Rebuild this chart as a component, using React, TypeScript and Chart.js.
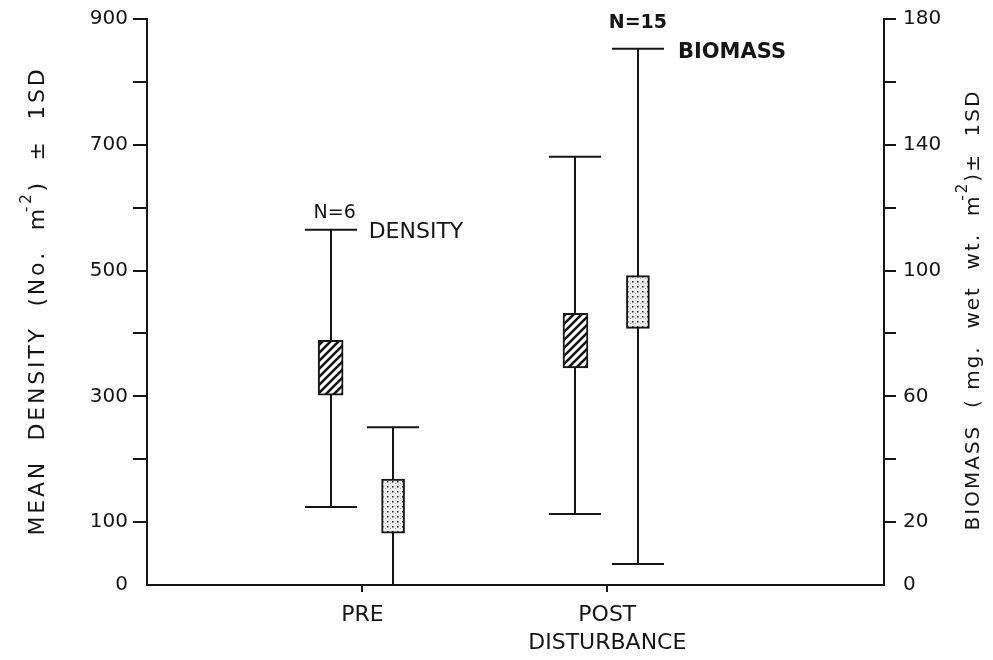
import React, { useEffect, useRef } from 'react';
import { Chart, registerables } from 'chart.js';

Chart.register(...registerables);

// ---------- data ----------
const CATEGORIES = ['PRE', 'POST'];
const X_TICK_LABELS = [['PRE'], ['POST', 'DISTURBANCE']];
const SAMPLE_SIZES = ['N=6', 'N=15'];

// Density (No. m^-2), left axis
const DENSITY_BOX_LOW = [302, 345];
const DENSITY_BOX_HIGH = [389, 432];
const DENSITY_SD_LOW = [124, 113];
const DENSITY_SD_HIGH = [565, 681];

// Biomass (mg wet wt. m^-2), right axis
const BIOMASS_BOX_LOW = [16.5, 81.6];
const BIOMASS_BOX_HIGH = [33.7, 98.4];
const BIOMASS_SD_LOW = [0, 6.7];
const BIOMASS_SD_HIGH = [50.2, 170.5];

const LEFT_TICK_LABELS = [0, 100, 300, 500, 700, 900];
const RIGHT_TICK_LABELS = [0, 20, 60, 100, 140, 180];

// ---------- style ----------
const INK = '#151515';
const FONT = '"DejaVu Sans", "Liberation Sans", sans-serif';
const DENSITY_OFFSET = -0.13;
const BIOMASS_OFFSET = 0.125;
const CAP = 52;

function makeHatch(ctx: CanvasRenderingContext2D) {
  const c = document.createElement('canvas');
  c.width = 8;
  c.height = 8;
  const g = c.getContext('2d')!;
  g.fillStyle = '#ffffff';
  g.fillRect(0, 0, 8, 8);
  g.strokeStyle = INK;
  g.lineWidth = 2.6;
  g.beginPath();
  g.moveTo(-2, 10);
  g.lineTo(10, -2);
  g.moveTo(-2, 2);
  g.lineTo(2, -2);
  g.moveTo(6, 10);
  g.lineTo(10, 6);
  g.stroke();
  return ctx.createPattern(c, 'repeat')!;
}

function makeDots(ctx: CanvasRenderingContext2D) {
  const c = document.createElement('canvas');
  c.width = 5;
  c.height = 5;
  const g = c.getContext('2d')!;
  g.fillStyle = '#efefef';
  g.fillRect(0, 0, 5, 5);
  g.fillStyle = '#222';
  g.fillRect(2, 1, 1.5, 1.5);
  g.fillStyle = '#aaa';
  g.fillRect(0, 3, 1, 1);
  return ctx.createPattern(c, 'repeat')!;
}

type Part = { t: string; sup?: boolean };

function partWidth(ctx: CanvasRenderingContext2D, p: Part, spacing: number, font: string, supFont: string) {
  ctx.font = p.sup ? supFont : font;
  let w = 0;
  for (const ch of p.t) w += ctx.measureText(ch).width + spacing;
  return w;
}

function drawRotated(
  ctx: CanvasRenderingContext2D,
  cx: number,
  cy: number,
  parts: Part[],
  font: string,
  supFont: string,
  spacing: number,
) {
  ctx.save();
  ctx.translate(cx, cy);
  ctx.rotate(-Math.PI / 2);
  ctx.fillStyle = INK;
  ctx.textBaseline = 'middle';
  ctx.textAlign = 'left';
  const supBack = 6;
  let total = 0;
  parts.forEach((p) => {
    total += partWidth(ctx, p, spacing, font, supFont) - (p.sup ? supBack : 0);
  });
  let x = -total / 2;
  parts.forEach((p) => {
    ctx.font = p.sup ? supFont : font;
    if (p.sup) x -= supBack;
    const yy = p.sup ? -11 : 0;
    for (const ch of p.t) {
      ctx.fillText(ch, x, yy);
      x += ctx.measureText(ch).width + spacing;
    }
  });
  ctx.restore();
}

const SERIES = [
  { axis: 'y', offset: DENSITY_OFFSET, lo: DENSITY_SD_LOW, hi: DENSITY_SD_HIGH },
  { axis: 'y2', offset: BIOMASS_OFFSET, lo: BIOMASS_SD_LOW, hi: BIOMASS_SD_HIGH },
];

const whiskerPlugin = {
  id: 'whiskers',
  beforeDatasetsDraw(chart: any) {
    const { ctx } = chart;
    const xs = chart.scales.x;
    ctx.save();
    ctx.strokeStyle = INK;
    ctx.lineWidth = 2;
    SERIES.forEach((s) => {
      const ys = chart.scales[s.axis];
      s.lo.forEach((lo: number, i: number) => {
        const px = Math.round(xs.getPixelForValue(i + s.offset));
        const yLo = ys.getPixelForValue(lo);
        const yHi = ys.getPixelForValue(s.hi[i]);
        ctx.beginPath();
        ctx.moveTo(px, yLo);
        ctx.lineTo(px, yHi);
        ctx.moveTo(px - CAP / 2, yLo);
        ctx.lineTo(px + CAP / 2, yLo);
        ctx.moveTo(px - CAP / 2, yHi);
        ctx.lineTo(px + CAP / 2, yHi);
        ctx.stroke();
      });
    });
    ctx.restore();
  },
};

const textPlugin = {
  id: 'texts',
  afterDraw(chart: any) {
    const { ctx, chartArea } = chart;
    const xs = chart.scales.x;
    const y = chart.scales.y;
    const y2 = chart.scales.y2;
    const midY = (chartArea.top + chartArea.bottom) / 2;

    drawRotated(
      ctx,
      38,
      midY - 1,
      [{ t: 'MEAN  DENSITY  (No.  m' }, { t: '-2', sup: true }, { t: ')  ±  1SD' }],
      `22px ${FONT}`,
      `15px ${FONT}`,
      2.8,
    );
    drawRotated(
      ctx,
      974,
      midY + 8,
      [{ t: 'BIOMASS  ( mg.  wet  wt.  m' }, { t: '-2', sup: true }, { t: ')±  1SD' }],
      `20px ${FONT}`,
      `15px ${FONT}`,
      2,
    );

    ctx.save();
    ctx.fillStyle = INK;
    ctx.textBaseline = 'middle';
    // density annotation (PRE)
    const dX = xs.getPixelForValue(0 + DENSITY_OFFSET);
    const dY = y.getPixelForValue(DENSITY_SD_HIGH[0]);
    ctx.font = `19px ${FONT}`;
    ctx.textAlign = 'center';
    ctx.fillText(SAMPLE_SIZES[0], dX + 4, dY - 17);
    ctx.font = `22px ${FONT}`;
    ctx.textAlign = 'left';
    ctx.fillText('DENSITY', dX + CAP / 2 + 12, dY + 3);
    // biomass annotation (POST)
    const bX = xs.getPixelForValue(1 + BIOMASS_OFFSET);
    const bY = y2.getPixelForValue(BIOMASS_SD_HIGH[1]);
    ctx.font = `bold 19px ${FONT}`;
    ctx.textAlign = 'center';
    ctx.fillText(SAMPLE_SIZES[1], bX, bY - 26);
    ctx.font = `bold 21px ${FONT}`;
    ctx.textAlign = 'left';
    ctx.fillText('BIOMASS', bX + CAP / 2 + 14, bY + 4);
    ctx.restore();
  },
};

export default function App() {
  const ref = useRef<HTMLCanvasElement>(null);

  useEffect(() => {
    const canvas = ref.current!;
    const c2d = canvas.getContext('2d')!;
    const hatch = makeHatch(c2d);
    const dots = makeDots(c2d);

    const tickColorFn = (c: any) => (c.tick && c.tick.value === 0 ? 'rgba(0,0,0,0)' : INK);

    const chart = new Chart(canvas, {
      type: 'bar',
      data: {
        datasets: [
          {
            label: 'DENSITY',
            yAxisID: 'y',
            data: CATEGORIES.map((_, i) => ({
              x: i + DENSITY_OFFSET,
              y: [DENSITY_BOX_LOW[i], DENSITY_BOX_HIGH[i]],
            })) as any,
            backgroundColor: hatch as any,
            borderColor: INK,
            borderWidth: 2,
            borderSkipped: false,
            barThickness: 25,
            grouped: false,
          } as any,
          {
            label: 'BIOMASS',
            yAxisID: 'y2',
            data: CATEGORIES.map((_, i) => ({
              x: i + BIOMASS_OFFSET,
              y: [BIOMASS_BOX_LOW[i], BIOMASS_BOX_HIGH[i]],
            })) as any,
            backgroundColor: dots as any,
            borderColor: INK,
            borderWidth: 2,
            borderSkipped: false,
            barThickness: 23,
            grouped: false,
          } as any,
        ],
      },
      options: {
        animation: false,
        responsive: true,
        maintainAspectRatio: false,
        layout: { padding: { top: 18, left: 0, right: 0, bottom: 0 } },
        plugins: { legend: { display: false }, tooltip: { enabled: false } },
        scales: {
          x: {
            type: 'linear',
            min: -0.88,
            max: 2.13,
            offset: false,
            grid: {
              display: true,
              drawOnChartArea: false,
              offset: false,
              tickLength: 7,
              color: INK,
              lineWidth: 2,
            },
            border: { display: true, color: INK, width: 2 },
            afterBuildTicks: (s: any) => {
              s.ticks = CATEGORIES.map((_, i) => ({ value: i }));
            },
            afterFit: (s: any) => {
              s.height = 75;
            },
            ticks: {
              autoSkip: false,
              maxRotation: 0,
              padding: 10,
              color: INK,
              font: { family: FONT, size: 22, lineHeight: 1.25 },
              callback: (v: any) => X_TICK_LABELS[v as number] ?? '',
            },
          } as any,
          y: {
            type: 'linear',
            position: 'left',
            min: 0,
            max: 900,
            grid: {
              drawOnChartArea: false,
              tickLength: 14,
              color: INK,
              tickColor: tickColorFn,
              lineWidth: 2,
            },
            border: { display: true, color: INK, width: 2 },
            afterFit: (s: any) => {
              s.width = 147;
            },
            ticks: {
              stepSize: 100,
              autoSkip: false,
              padding: 5,
              color: INK,
              font: { family: FONT, size: 20 },
              callback: (v: any) => (LEFT_TICK_LABELS.includes(v) ? String(v) : ''),
            },
          } as any,
          y2: {
            type: 'linear',
            position: 'right',
            min: 0,
            max: 180,
            grid: {
              drawOnChartArea: false,
              tickLength: 12,
              color: INK,
              tickColor: tickColorFn,
              lineWidth: 2,
            },
            border: { display: true, color: INK, width: 2 },
            afterFit: (s: any) => {
              s.width = 109;
            },
            ticks: {
              stepSize: 20,
              autoSkip: false,
              padding: 7,
              color: INK,
              font: { family: FONT, size: 20 },
              callback: (v: any) => (RIGHT_TICK_LABELS.includes(v) ? String(v) : ''),
            },
          } as any,
        },
      },
      plugins: [whiskerPlugin, textPlugin],
    });

    return () => chart.destroy();
  }, []);

  return (
    <div style={{ position: 'fixed', left: 0, top: 0, width: 993, height: 660, background: '#ffffff' }}>
      <canvas ref={ref} />
    </div>
  );
}
